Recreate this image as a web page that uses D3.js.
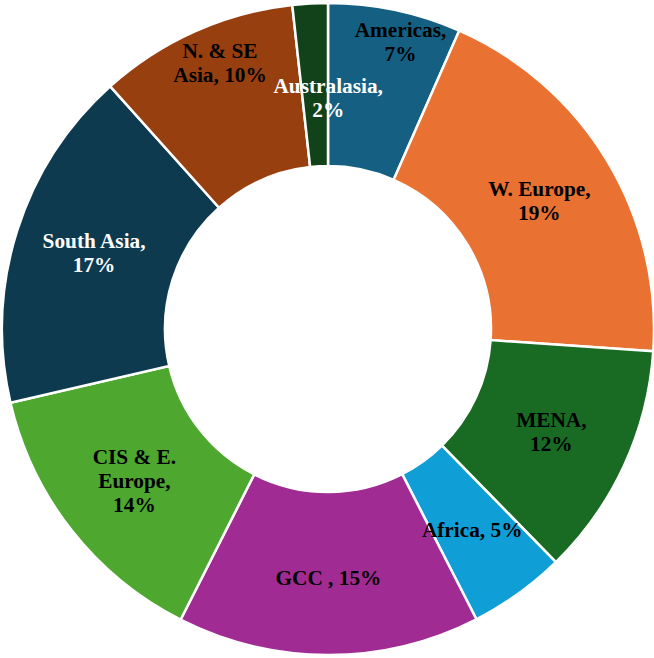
<!DOCTYPE html>
<html><head><meta charset="utf-8">
<script src="https://cdn.jsdelivr.net/npm/d3@7"></script>
<style>html,body{margin:0;padding:0;background:#fff;}svg{display:block;}</style>
</head><body>
<svg id="chart" width="654" height="658"></svg>
<script>
// Data
const categories = ["Americas", "W. Europe", "MENA", "Africa", "GCC ", "CIS & E. Europe", "South Asia", "N. & SE Asia", "Australasia"];
const values = [6.6, 19.5, 11.6, 4.8, 15.0, 13.9, 17.0, 9.9, 1.75];
const pctLabels = ["7%", "19%", "12%", "5%", "15%", "14%", "17%", "10%", "2%"];
const labelLines = [
  ["Americas,", "7%"],
  ["W. Europe,", "19%"],
  ["MENA,", "12%"],
  ["Africa, 5%"],
  ["GCC , 15%"],
  ["CIS & E.", "Europe,", "14%"],
  ["South Asia,", "17%"],
  ["N. & SE", "Asia, 10%"],
  ["Australasia,", "2%"]
];
// Styles
const colors = ["#156082", "#E97132", "#196B24", "#0F9ED5", "#A02B93", "#4EA72E", "#0E3A50", "#983F10", "#124219"];
const textColors = ["#000", "#000", "#000", "#000", "#000", "#000", "#fff", "#000", "#fff"];
// Label placement (radius, angle nudge in degrees), layout only
const labelRadius = [296, 247, 246, 247, 249, 246, 246, 287, 231];
const labelAngleNudge = [2.3, 0, 0, 0, 0, 0, 0.5, 2, 3.2];

const cx = 328, cy = 329, R = 326, r0 = 163;
const svg = d3.select("#chart");
const g = svg.append("g").attr("transform", `translate(${cx},${cy})`);

const pie = d3.pie().sort(null).value(d => d)(values);
const arc = d3.arc().innerRadius(r0).outerRadius(R);

g.selectAll("path.slice").data(pie).join("path")
  .attr("class", "slice")
  .attr("d", arc)
  .attr("fill", (d, i) => colors[i])
  .attr("stroke", "#fff")
  .attr("stroke-width", 2.5)
  .attr("stroke-linejoin", "miter");

const lineH = 24;
pie.forEach((d, i) => {
  const a = (d.startAngle + d.endAngle) / 2 + labelAngleNudge[i] * Math.PI / 180;
  const x = Math.sin(a) * labelRadius[i];
  const y = -Math.cos(a) * labelRadius[i];
  const lines = labelLines[i];
  const t = g.append("text")
    .attr("x", x).attr("y", y)
    .attr("text-anchor", "middle")
    .attr("font-family", "'Liberation Serif', 'Times New Roman', serif")
    .attr("font-weight", "bold")
    .attr("font-size", 21.3)
    .attr("fill", textColors[i]);
  const y0 = -(lines.length - 1) * lineH / 2 + 7;
  lines.forEach((ln, j) => {
    t.append("tspan").attr("x", x).attr("y", y + y0 + j * lineH).text(ln);
  });
});
</script>
</body></html>
